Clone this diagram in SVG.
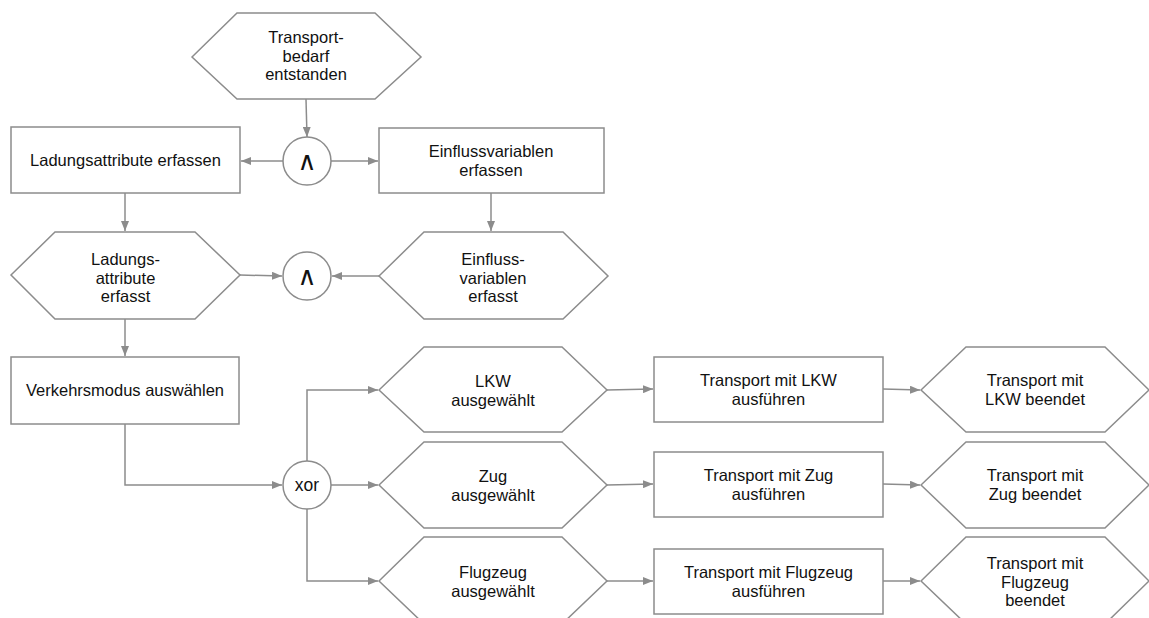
<svg xmlns="http://www.w3.org/2000/svg" width="1149" height="618" viewBox="0 0 1149 618">
  <style>
    .shape { fill: #ffffff; stroke: #8c8c8c; stroke-width: 1.5; }
    .edge { fill: none; stroke: #8c8c8c; stroke-width: 1.5; marker-end: url(#arrow); }
    text { font-family: "Liberation Sans", Arial, sans-serif; font-size: 16.5px; fill: #111111; text-anchor: middle; }
    .op { font-family: "DejaVu Sans", sans-serif; font-size: 26px; }
  </style>
  <defs>
    <marker id="arrow" viewBox="0 0 10 8" refX="10" refY="4" markerWidth="10" markerHeight="8" markerUnits="userSpaceOnUse" orient="auto">
      <path d="M0,0 L10,4 L0,8 Z" fill="#8c8c8c"/>
    </marker>
  </defs>
  <rect width="1149" height="618" fill="#ffffff"/>

  <!-- connectors -->
  <g id="connectors">
    <path class="edge" d="M306,99 L307,137"/>
    <path class="edge" d="M283,161 L241,161"/>
    <path class="edge" d="M331,161 L378,161"/>
    <path class="edge" d="M125,193 L125,231"/>
    <path class="edge" d="M491,193 L491,231"/>
    <path class="edge" d="M240,275 L282,276"/>
    <path class="edge" d="M379,276 L332,276"/>
    <path class="edge" d="M125,319 L125,356"/>
    <path class="edge" d="M125,424 L125,485 L282,485"/>
    <path class="edge" d="M307,461 L307,390 L378,390"/>
    <path class="edge" d="M331,485 L378,485"/>
    <path class="edge" d="M307,509 L307,581 L378,581"/>
    <path class="edge" d="M607,390 L653,389"/>
    <path class="edge" d="M607,485 L653,484"/>
    <path class="edge" d="M607,581 L653,581"/>
    <path class="edge" d="M883,389 L920,390"/>
    <path class="edge" d="M883,484 L920,485"/>
    <path class="edge" d="M883,581 L920,581"/>
  </g>

  <!-- events (hexagons), functions (boxes), operators (circles) -->
  <g id="ev-bedarf">
    <polygon class="shape" points="192,57 237,13 375,13 421,57 375,99 237,99"/>
    <text x="306" y="43">Transport-</text>
    <text x="306" y="61.5">bedarf</text>
    <text x="306" y="80">entstanden</text>
  </g>

  <g id="and-1">
    <circle class="shape" cx="307" cy="161" r="24"/>
    <text class="op" x="307" y="170">∧</text>
  </g>

  <g id="fn-ladung">
    <rect class="shape" x="11" y="127" width="229" height="66"/>
    <text x="125.5" y="166">Ladungsattribute erfassen</text>
  </g>

  <g id="fn-einfluss">
    <rect class="shape" x="379" y="128" width="225" height="65"/>
    <text x="491" y="157">Einflussvariablen</text>
    <text x="491" y="175.5">erfassen</text>
  </g>

  <g id="ev-ladung">
    <polygon class="shape" points="11,275 55,232 195,232 240,275 195,319 55,319"/>
    <text x="125.5" y="265">Ladungs-</text>
    <text x="125.5" y="283.5">attribute</text>
    <text x="125.5" y="302">erfasst</text>
  </g>

  <g id="and-2">
    <circle class="shape" cx="307" cy="276" r="24"/>
    <text class="op" x="307" y="285">∧</text>
  </g>

  <g id="ev-einfluss">
    <polygon class="shape" points="379,276 424,232 563,232 608,276 563,319 424,319"/>
    <text x="493" y="265">Einfluss-</text>
    <text x="493" y="283.5">variablen</text>
    <text x="493" y="302">erfasst</text>
  </g>

  <g id="fn-modus">
    <rect class="shape" x="11" y="357" width="228" height="67"/>
    <text x="125" y="396">Verkehrsmodus auswählen</text>
  </g>

  <g id="xor">
    <circle class="shape" cx="307" cy="485" r="24"/>
    <text x="307" y="491" style="font-size:17.5px">xor</text>
  </g>

  <g id="ev-lkw">
    <polygon class="shape" points="379,390 424,347 562,347 607,390 562,432 424,432"/>
    <text x="493" y="387">LKW</text>
    <text x="493" y="405.5">ausgewählt</text>
  </g>

  <g id="ev-zug">
    <polygon class="shape" points="379,485 424,442 562,442 607,485 562,528 424,528"/>
    <text x="493" y="482">Zug</text>
    <text x="493" y="500.5">ausgewählt</text>
  </g>

  <g id="ev-flug">
    <polygon class="shape" points="379,581 424,537 562,537 607,581 562,624 424,624"/>
    <text x="493" y="578">Flugzeug</text>
    <text x="493" y="596.5">ausgewählt</text>
  </g>

  <g id="fn-lkw">
    <rect class="shape" x="654" y="357" width="229" height="65"/>
    <text x="768.5" y="386">Transport mit LKW</text>
    <text x="768.5" y="404.5">ausführen</text>
  </g>

  <g id="fn-zug">
    <rect class="shape" x="654" y="452" width="229" height="65"/>
    <text x="768.5" y="481">Transport mit Zug</text>
    <text x="768.5" y="499.5">ausführen</text>
  </g>

  <g id="fn-flug">
    <rect class="shape" x="654" y="549" width="229" height="65"/>
    <text x="768.5" y="578">Transport mit Flugzeug</text>
    <text x="768.5" y="596.5">ausführen</text>
  </g>

  <g id="ev-lkw-done">
    <polygon class="shape" points="921,390 966,347 1105,347 1149,390 1105,432 966,432"/>
    <text x="1035" y="386">Transport mit</text>
    <text x="1035" y="404.5">LKW beendet</text>
  </g>

  <g id="ev-zug-done">
    <polygon class="shape" points="921,485 966,442 1105,442 1149,485 1105,528 966,528"/>
    <text x="1035" y="481">Transport mit</text>
    <text x="1035" y="499.5">Zug beendet</text>
  </g>

  <g id="ev-flug-done">
    <polygon class="shape" points="921,581 966,537 1105,537 1149,581 1105,624 966,624"/>
    <text x="1035" y="569">Transport mit</text>
    <text x="1035" y="587.5">Flugzeug</text>
    <text x="1035" y="606">beendet</text>
  </g>
</svg>
